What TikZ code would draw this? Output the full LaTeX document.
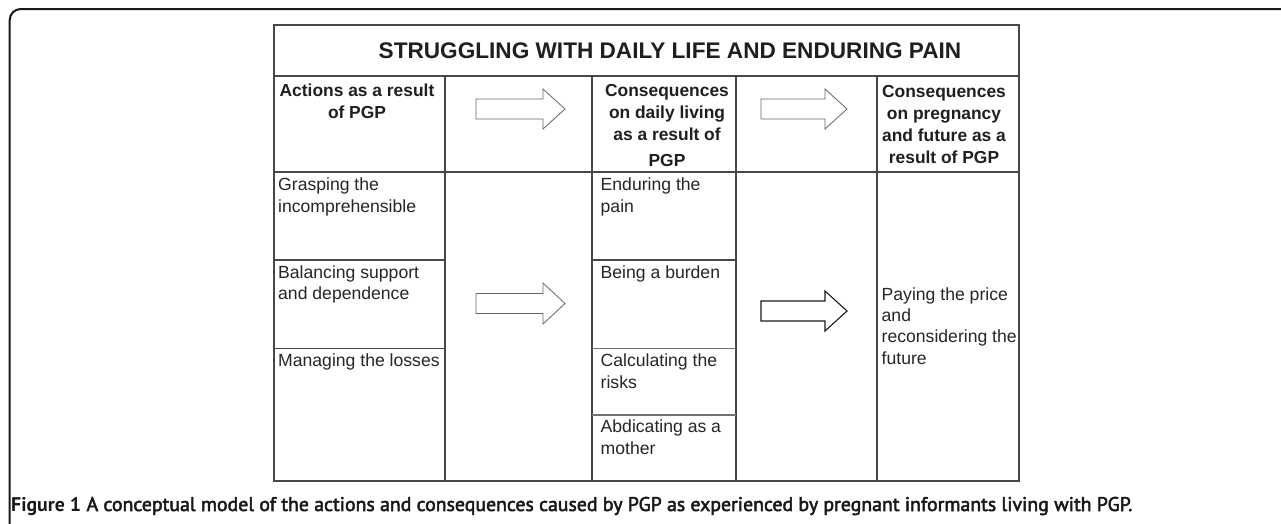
\documentclass[tikz,border=0pt]{standalone}
\usepackage{fontspec}
\setmainfont{Liberation Sans}
\newfontfamily\capfont{PT Sans}
\newfontfamily\capmed{PT Sans}[FakeBold=2.5]
\begin{document}
\begin{tikzpicture}[x=1pt,y=-1pt,
  grid/.style={draw=black!72, line width=1.2pt},
  arrowshape/.style={draw=black!60, line width=0.8pt, fill=white},
  arrowdark/.style={draw=black!90, line width=1.1pt, fill=white},
  titletxt/.style={inner sep=0, font=\fontsize{22.6}{27}\selectfont\bfseries, text=black!88},
  headtxt/.style={inner sep=0, anchor=north, align=center, font=\fontsize{17.4}{22}\selectfont\bfseries, text=black!88},
  bodytxt/.style={inner sep=0, anchor=north west, align=left, font=\fontsize{17.6}{21.4}\selectfont, text=black!85},
  captxt/.style={inner sep=0, anchor=base west, font=\fontsize{19.8}{23}\selectfont, text=black!90}]
\useasboundingbox (0,0) rectangle (1281,523);
\fill[white] (0,0) rectangle (1281,523);
% outer frame
\draw[line width=2pt, black!90, rounded corners=11pt] (9.7,524) -- (9.7,9) -- (1282,9);
% table grid
\draw[grid] (274,25) rectangle (1019,481);
\draw[grid] (274,76) -- (1019,76);
\draw[grid] (274,172) -- (1019,172);
\foreach \xx in {445,592,736,877} \draw[grid] (\xx,76) -- (\xx,481);
\draw[grid] (274,260) -- (445,260);
\draw[grid] (274,348.5) -- (445,348.5);
\draw[grid] (592,260) -- (736,260);
\draw[grid, draw=black!55] (592,348.5) -- (736,348.5);
\draw[grid, draw=black!55] (592,415) -- (736,415);
% arrows
\draw[arrowshape] (476,99) -- (543,99) -- (543,89) -- (565,109) -- (543,129) -- (543,119) -- (476,119) -- cycle;
\draw[arrowshape] (761,99) -- (825,99) -- (825,89) -- (847,109) -- (825,129) -- (825,119) -- (761,119) -- cycle;
\draw[arrowshape] (476,293.5) -- (543,293.5) -- (543,283) -- (565,303.5) -- (543,324) -- (543,313.5) -- (476,313.5) -- cycle;
\draw[arrowdark] (761,301) -- (825,301) -- (825,291) -- (847,311) -- (825,331) -- (825,321) -- (761,321) -- cycle;
% title
\node[titletxt] (title) at (670,51) {STRUGGLING WITH DAILY LIFE AND ENDURING PAIN};
% headers
\node[headtxt] (h1) at (357,80.6) {\strut Actions as a result\\of PGP};
\node[headtxt] (h2) at (667,80.6) {\strut Consequences\\on daily living\\as a result of\\[4pt]PGP};
\node[headtxt] (h3) at (944,81.6) {\strut Consequences\\on pregnancy\\and future as a\\result of PGP};
% body column 1
\node[bodytxt] (a1) at (278,175.7) {\strut Grasping the\\incomprehensible};
\node[bodytxt] (a2) at (278,263.3) {\strut Balancing support\\and dependence};
\node[bodytxt] (a3) at (278,351.7) {\strut Managing the losses};
% body column 3
\node[bodytxt] (c1) at (600.5,175.7) {\strut Enduring the\\pain};
\node[bodytxt] (c2) at (600.5,263.3) {\strut Being a burden};
\node[bodytxt] (c3) at (600.5,351.7) {\strut Calculating the\\risks};
\node[bodytxt] (c4) at (600.5,417.7) {\strut Abdicating as a\\mother};
% body column 5
\node[bodytxt] (p1) at (881.5,285) {\strut Paying the price\\and\\reconsidering the\\future};
% caption
\node[captxt] (cap) at (11,511) {{\capfont\bfseries Figure 1} {\capmed A conceptual model of the actions and consequences caused by PGP as experienced by pregnant informants living with PGP.}};
\end{tikzpicture}
\end{document}
